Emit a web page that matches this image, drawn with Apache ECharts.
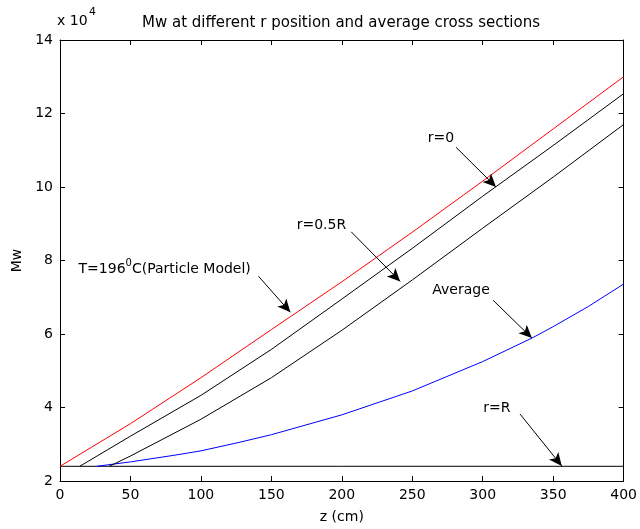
<!DOCTYPE html>
<html>
<head>
<meta charset="utf-8">
<script src="https://cdn.jsdelivr.net/npm/echarts@6/dist/echarts.min.js"></script>
<style>html,body{margin:0;padding:0;background:#fff;}#c{width:640px;height:529px;}</style>
</head>
<body>
<div id="c"></div>
<script>
// Data (Mw in units of 10^4), z in cm
const xTicks = [0, 50, 100, 150, 200, 250, 300, 350, 400];
const yTicks = [2, 4, 6, 8, 10, 12, 14];
const zParticle = [0, 50, 100, 150, 200, 250, 300, 350, 400];
const mwParticle = [2.4, 3.56, 4.81, 6.12, 7.42, 8.77, 10.16, 11.58, 13.0];
const zR0 = [14, 50, 100, 150, 200, 250, 300, 350, 400];
const mwR0 = [2.4, 3.22, 4.33, 5.58, 6.95, 8.33, 9.75, 11.13, 12.54];
const zHalfR = [35, 50, 100, 150, 200, 250, 300, 350, 400];
const mwHalfR = [2.4, 2.68, 3.68, 4.81, 6.1, 7.47, 8.88, 10.27, 11.7];
const zAvg = [26, 50, 81, 100, 127, 150, 200, 250, 300, 335, 350, 375, 400];
const mwAvg = [2.4, 2.52, 2.7, 2.82, 3.05, 3.26, 3.8, 4.45, 5.25, 5.89, 6.2, 6.75, 7.36];
const zRR = [0, 400];
const mwRR = [2.4, 2.4];
// Annotations: [text, textPos, arrowStart, arrowTip] in data coords
const annotations = [
  ['r=0', [270.4, 11.32], [281.1, 11.08], [309.4, 10.0]],
  ['r=0.5R', [185.5, 8.95], [206.7, 8.78], [241.4, 7.43]],
  ['{a|T=196}{s|0}{a|C(Particle Model)}', [74.3, 7.81], [140.9, 7.57], [163.5, 6.59]],
  ['Average', [284.6, 7.19], [307.3, 6.92], [334.9, 5.89]],
  ['r=R', [310.0, 3.97], [326.5, 3.82], [356.1, 2.41]]
];

const zip = (a, b) => a.map((v, i) => [v, b[i]]);
const FONT = '"DejaVu Sans", sans-serif';
const chart = echarts.init(document.getElementById('c'), null, {renderer: 'canvas'});

function lineSeries(name, xs, ys, color, extra) {
  return Object.assign({
    name: name, type: 'line', data: zip(xs, ys), showSymbol: false, symbol: 'none',
    lineStyle: {color: color, width: 1}, itemStyle: {color: color}, animation: false, silent: true,
    xAxisIndex: 0, yAxisIndex: 0
  }, extra || {});
}

const axisCommon = {
  type: 'value', min: 0, max: 400, interval: 50,
  axisLine: {show: true, onZero: false, lineStyle: {color: '#000', width: 1}},
  axisTick: {show: true, inside: true, length: 5, lineStyle: {color: '#000'}},
  splitLine: {show: false}
};
const yCommon = {
  type: 'value', min: 2, max: 14, interval: 2,
  axisLine: {show: true, onZero: false, lineStyle: {color: '#000', width: 1}},
  axisTick: {show: true, inside: true, length: 5, lineStyle: {color: '#000'}},
  splitLine: {show: false}
};

const option = {
  backgroundColor: '#fff',
  animation: false,
  title: {
    text: 'Mw at different r position and average cross sections',
    left: 336, top: 11, textAlign: 'center',
    textStyle: {fontFamily: FONT, fontSize: 15, fontWeight: 'normal', color: '#000'}
  },
  graphic: [
    {type: 'text', left: 57, top: 14, style: {text: 'x 10', font: '14px ' + FONT, fill: '#000'}},
    {type: 'text', left: 89, top: 7, style: {text: '4', font: '11px ' + FONT, fill: '#000'}}
  ],
  grid: {left: 60, top: 40, right: 15, bottom: 45, containLabel: false},
  xAxis: [
    Object.assign({}, axisCommon, {
      position: 'bottom', name: 'z (cm)', nameLocation: 'middle', nameGap: 29,
      nameTextStyle: {fontFamily: FONT, fontSize: 14, color: '#000'},
      axisLabel: {show: true, color: '#000', fontFamily: FONT, fontSize: 14, margin: 7,
        customValues: xTicks}
    }),
    Object.assign({}, axisCommon, {position: 'top', axisLabel: {show: false}})
  ],
  yAxis: [
    Object.assign({}, yCommon, {
      position: 'left', name: 'Mw', nameLocation: 'middle', nameGap: 34,
      nameTextStyle: {fontFamily: FONT, fontSize: 14, color: '#000'},
      axisLabel: {show: true, color: '#000', fontFamily: FONT, fontSize: 14, margin: 7}
    }),
    Object.assign({}, yCommon, {position: 'right', axisLabel: {show: false}})
  ],
  series: [
    lineSeries('r=R', zRR, mwRR, '#000', {
      markLine: {
        silent: true, animation: false, symbol: ['none', 'arrow'], symbolSize: [9, 13],
        label: {show: false},
        lineStyle: {color: '#000', width: 1, type: 'solid'},
        data: annotations.map(a => [{coord: a[2], symbol: 'none'}, {coord: a[3], symbol: 'arrow'}])
      },
      markPoint: {
        silent: true, animation: false, symbol: 'circle', symbolSize: 0,
        label: {
          show: true, position: 'inside', color: '#000', fontFamily: FONT, fontSize: 14,
          rich: {
            a: {fontFamily: FONT, fontSize: 14, color: '#000', lineHeight: 18, verticalAlign: 'bottom'},
            s: {fontFamily: FONT, fontSize: 10, color: '#000', lineHeight: 18, verticalAlign: 'top', padding: [0, 0, 8, 0]}
          }
        },
        data: annotations.map(a => ({coord: a[1], value: 0, label: {formatter: a[0]}}))
      }
    }),
    lineSeries('Average', zAvg, mwAvg, '#0000ff'),
    lineSeries('r=0.5R', zHalfR, mwHalfR, '#000'),
    lineSeries('r=0', zR0, mwR0, '#000'),
    lineSeries('Particle', zParticle, mwParticle, '#ff0000')
  ]
};
chart.setOption(option);
</script>
</body>
</html>
